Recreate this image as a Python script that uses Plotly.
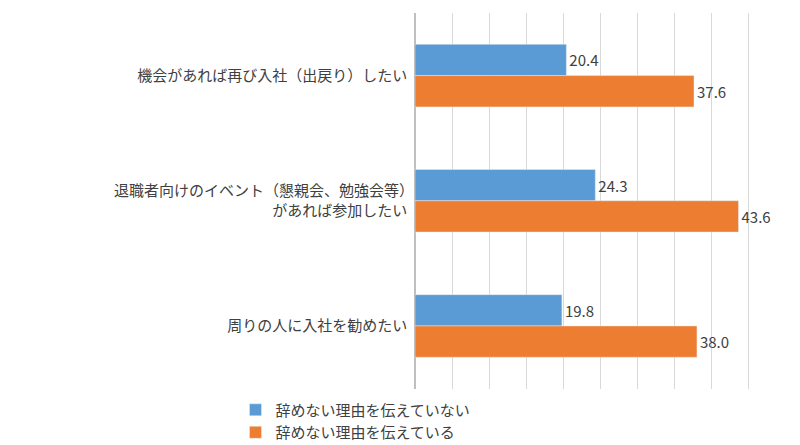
import plotly.graph_objects as go

categories = ["機会があれば再び入社（出戻り）したい",
              "退職者向けのイベント（懇親会、勉強会等）<br>があれば参加したい",
              "周りの人に入社を勧めたい"]
not_told = [20.4, 24.3, 19.8]
told = [37.6, 43.6, 38.0]

fig = go.Figure()
fig.add_trace(go.Bar(y=categories, x=not_told, orientation="h", name="辞めない理由を伝えていない",
                     marker_color="#5b9bd5", text=[f"{v:.1f}" for v in not_told],
                     textposition="outside", cliponaxis=False))
fig.add_trace(go.Bar(y=categories, x=told, orientation="h", name="辞めない理由を伝えている",
                     marker_color="#ed7d31", text=[f"{v:.1f}" for v in told],
                     textposition="outside", cliponaxis=False))

fig.update_layout(
    width=800, height=445,
    barmode="group", bargap=0.5, bargroupgap=0,
    plot_bgcolor="white", paper_bgcolor="white",
    font=dict(family="Noto Sans CJK JP", size=15, color="#404040"),
    margin=dict(l=407, r=22, t=5, b=60),
    xaxis=dict(range=[0, 50], dtick=5, showticklabels=False, showgrid=True,
               gridcolor="#d9d9d9", zeroline=True, zerolinecolor="#bfbfbf"),
    yaxis=dict(autorange="reversed", ticksuffix="  ", tickfont=dict(size=15, color="#404040")),
    legend=dict(orientation="h", xref="container", x=0.5, xanchor="center",
                yref="container", y=0.01, yanchor="bottom", entrywidth=300,
                font=dict(size=15), traceorder="normal"),
    uniformtext=dict(minsize=15),
)
fig.write_html("out.html")
